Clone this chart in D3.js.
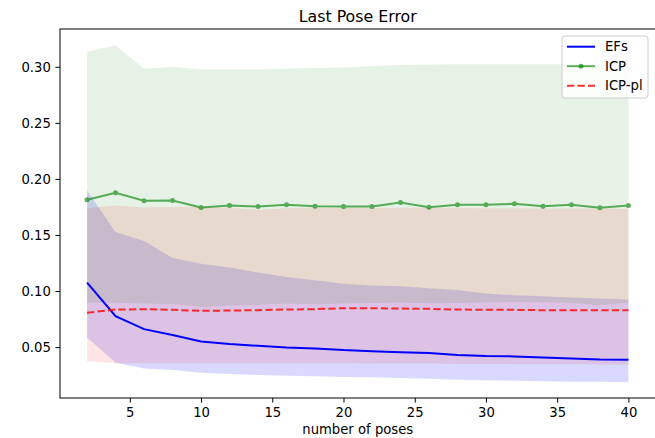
<!DOCTYPE html>
<html>
<head>
<meta charset="utf-8">
<script src="https://cdn.jsdelivr.net/npm/d3@7"></script>
<style>
  body { margin: 0; background: #fff; }
  svg { display: block; font-family: "DejaVu Sans", sans-serif; }
</style>
</head>
<body>
<div id="chart"></div>
<script>
// number of poses
const poses = [2, 4, 6, 8, 10, 12, 14, 16, 18, 20, 22, 24, 26, 28, 30, 32, 34, 36, 38, 40];

// EFs
const efsMean = [0.1075, 0.0776, 0.0660, 0.0607, 0.0550, 0.0527, 0.0512, 0.0497, 0.0488, 0.0473,
  0.0464, 0.0455, 0.0447, 0.0429, 0.0420, 0.0417, 0.0408, 0.0399, 0.0390, 0.0387];
const efsUpper = [0.1897, 0.1526, 0.1446, 0.1295, 0.1244, 0.1209, 0.1165, 0.1126, 0.1096, 0.1066,
  0.1049, 0.1043, 0.1025, 0.1010, 0.0978, 0.0963, 0.0954, 0.0942, 0.0933, 0.0924];
const efsLower = [0.0586, 0.0360, 0.0310, 0.0295, 0.0271, 0.0260, 0.0251, 0.0245, 0.0239, 0.0233,
  0.0230, 0.0224, 0.0218, 0.0208, 0.0204, 0.0200, 0.0196, 0.0192, 0.0190, 0.0186];

// ICP
const icpMean = [0.1814, 0.1876, 0.1805, 0.1808, 0.1746, 0.1763, 0.1754, 0.1769, 0.1757, 0.1754,
  0.1754, 0.1790, 0.1748, 0.1769, 0.1769, 0.1778, 0.1757, 0.1769, 0.1743, 0.1763];
const icpUpper = [0.3133, 0.3190, 0.2982, 0.3000, 0.2976, 0.2977, 0.2976, 0.2985, 0.2990, 0.2994,
  0.3006, 0.3015, 0.3020, 0.3022, 0.3022, 0.3022, 0.3022, 0.3022, 0.3022, 0.3022];
const icpLower = [0.0898, 0.0895, 0.0889, 0.0883, 0.0859, 0.0871, 0.0877, 0.0889, 0.0883, 0.0889,
  0.0894, 0.0898, 0.0890, 0.0894, 0.0900, 0.0903, 0.0900, 0.0894, 0.0874, 0.0898];

// ICP-pl
const plMean = [0.0806, 0.0835, 0.0838, 0.0832, 0.0823, 0.0826, 0.0829, 0.0835, 0.0838, 0.0847,
  0.0847, 0.0844, 0.0841, 0.0835, 0.0832, 0.0832, 0.0829, 0.0829, 0.0829, 0.0829];
const plUpper = [0.1740, 0.1763, 0.1746, 0.1749, 0.1749, 0.1743, 0.1725, 0.1740, 0.1743, 0.1740,
  0.1740, 0.1743, 0.1743, 0.1740, 0.1738, 0.1738, 0.1736, 0.1736, 0.1735, 0.1734];
const plLower = [0.0373, 0.0355, 0.0356, 0.0356, 0.0355, 0.0355, 0.0355, 0.0355, 0.0355, 0.0355,
  0.0354, 0.0354, 0.0353, 0.0350, 0.0349, 0.0348, 0.0347, 0.0346, 0.0345, 0.0345];

const xTicks = [5, 10, 15, 20, 25, 30, 35, 40];
const yTicks = [0.05, 0.10, 0.15, 0.20, 0.25, 0.30];

const width = 655, height = 438;
const plotLeft = 60, plotRight = 655.5, plotTop = 29, plotBottom = 398;

const svg = d3.select("#chart").append("svg")
  .attr("width", width).attr("height", height);

const x = d3.scaleLinear([0.1, 41.9], [plotLeft, plotRight]);
const y = d3.scaleLinear([0.0046, 0.3337], [plotBottom, plotTop]);

const series = [
  { name: "EFs", mean: efsMean, lo: efsLower, hi: efsUpper, color: "#0000ff", fillOp: 0.15, lineOp: 1, dash: null, marker: false },
  { name: "ICP", mean: icpMean, lo: icpLower, hi: icpUpper, color: "#008000", fillOp: 0.1, lineOp: 0.62, dash: null, marker: true },
  { name: "ICP-pl", mean: plMean, lo: plLower, hi: plUpper, color: "#ff0000", fillOp: 0.1, lineOp: 0.8, dash: "7.3,3.2", marker: false },
];

const area = d3.area()
  .x((d) => x(d.x))
  .y0((d) => y(d.lo))
  .y1((d) => y(d.hi));
const line = d3.line().x((d) => x(d.x)).y((d) => y(d.v));

// bands first, lines on top
series.forEach((s) => {
  svg.append("path")
    .datum(poses.map((p, i) => ({ x: p, lo: s.lo[i], hi: s.hi[i] })))
    .attr("d", area)
    .attr("fill", s.color)
    .attr("fill-opacity", s.fillOp);
});

series.forEach((s) => {
  const pts = poses.map((p, i) => ({ x: p, v: s.mean[i] }));
  const g = svg.append("g").attr("opacity", s.lineOp);
  g.append("path")
    .datum(pts)
    .attr("d", line)
    .attr("fill", "none")
    .attr("stroke", s.color)
    .attr("stroke-width", 2)
    .attr("stroke-dasharray", s.dash);
  if (s.marker) {
    g.selectAll("circle")
      .data(pts)
      .join("circle")
      .attr("cx", (d) => x(d.x))
      .attr("cy", (d) => y(d.v))
      .attr("r", 2.5)
      .attr("fill", s.color);
  }
});

// axes
const xAxis = svg.append("g")
  .attr("transform", `translate(0,${plotBottom})`)
  .call(d3.axisBottom(x).tickValues(xTicks).tickSizeOuter(0).tickSize(4.6).tickPadding(4.6));
const yAxis = svg.append("g")
  .attr("transform", `translate(${plotLeft},0)`)
  .call(d3.axisLeft(y).tickValues(yTicks).tickFormat(d3.format(".2f")).tickSizeOuter(0).tickSize(4.6).tickPadding(4.6));
[xAxis, yAxis].forEach((a) => {
  a.select(".domain").remove();
  a.selectAll("text").attr("font-size", 13.2).attr("font-family", "DejaVu Sans").attr("fill", "#000");
  a.selectAll("line").attr("stroke", "#000").attr("stroke-width", 1);
});

svg.append("rect")
  .attr("x", plotLeft).attr("y", plotTop)
  .attr("width", plotRight - plotLeft).attr("height", plotBottom - plotTop)
  .attr("fill", "none").attr("stroke", "#000").attr("stroke-width", 1);

svg.append("text")
  .attr("x", (plotLeft + plotRight) / 2).attr("y", 21.5)
  .attr("text-anchor", "middle")
  .attr("font-size", 15.8)
  .text("Last Pose Error");

svg.append("text")
  .attr("x", (plotLeft + plotRight) / 2).attr("y", 434)
  .attr("text-anchor", "middle")
  .attr("font-size", 13.2)
  .text("number of poses");

// legend
const legend = svg.append("g").attr("transform", "translate(562,36)");
legend.append("rect")
  .attr("width", 86).attr("height", 62).attr("rx", 3)
  .attr("fill", "#fff").attr("fill-opacity", 0.8)
  .attr("stroke", "#cccccc").attr("stroke-width", 1);
const item = legend.selectAll("g.item")
  .data(series)
  .join("g")
  .attr("class", "item")
  .attr("transform", (d, i) => `translate(0,${10.7 + i * 19.5})`);
item.append("line")
  .attr("x1", 5).attr("x2", 33)
  .attr("stroke", (d) => d.color)
  .attr("stroke-opacity", (d) => d.lineOp)
  .attr("stroke-width", 2)
  .attr("stroke-dasharray", (d) => d.dash);
item.filter((d) => d.marker)
  .append("circle")
  .attr("cx", 19).attr("r", 2.5)
  .attr("fill", (d) => d.color)
  .attr("fill-opacity", (d) => d.lineOp);
item.append("text")
  .attr("x", 43).attr("dy", "0.35em")
  .attr("font-size", 13.2)
  .text((d) => d.name);
</script>
</body>
</html>
